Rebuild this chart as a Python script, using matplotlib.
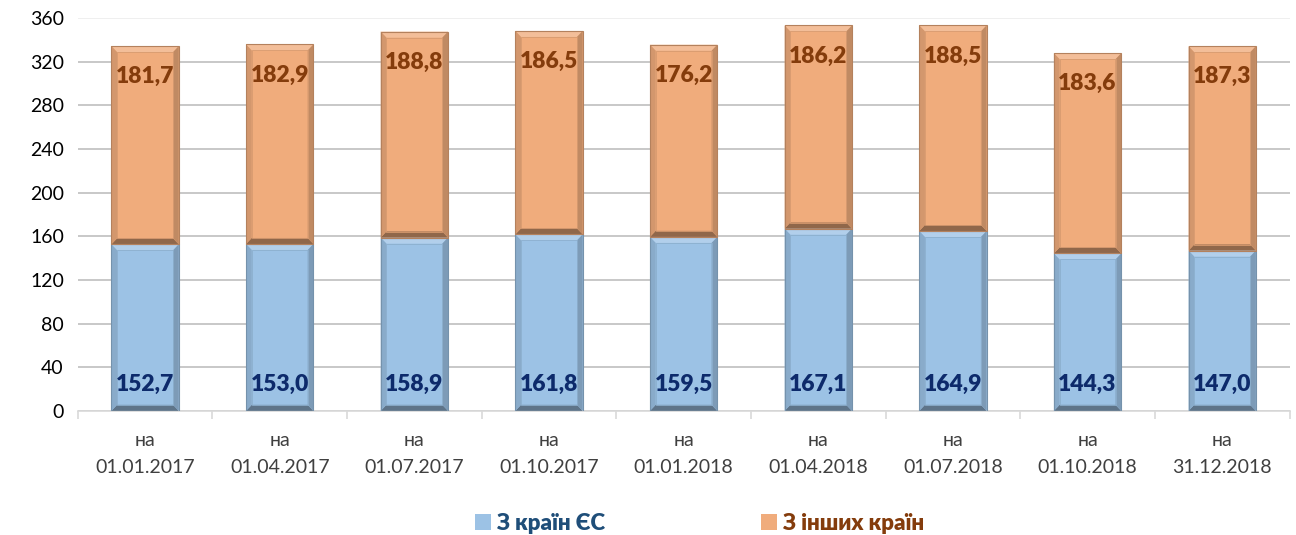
import numpy as np
import matplotlib
matplotlib.use('Agg')
import matplotlib.pyplot as plt
from matplotlib.patches import Polygon, Rectangle
from matplotlib.colors import to_rgb

plt.rcParams['font.family'] = ['Lato', 'DejaVu Sans']

# ── data ────────────────────────────────────────────────────────────────
dates = ['01.01.2017', '01.04.2017', '01.07.2017', '01.10.2017', '01.01.2018',
         '01.04.2018', '01.07.2018', '01.10.2018', '31.12.2018']
eu_vals = [152.7, 153.0, 158.9, 161.8, 159.5, 167.1, 164.9, 144.3, 147.0]
other_vals = [181.7, 182.9, 188.8, 186.5, 176.2, 186.2, 188.5, 183.6, 187.3]
series_names = ['З країн ЄС', 'З інших країн']

BLUE = '#9cc2e5'
ORANGE = '#f0ac7c'
BLUE_TXT = '#0d2a6b'
ORANGE_TXT = '#843c0c'
LEG_BLUE = '#1f4e79'
AXIS_TXT = '#404040'


def shade(c, f):
    r, g, b = to_rgb(c)
    if f >= 1:
        return tuple(v + (1 - v) * (f - 1) for v in (r, g, b))
    return tuple(v * f for v in (r, g, b))


def bevel(ax, rect, base, bx, by):
    """Add the raised-edge look on top of a bar rectangle."""
    x0, y0 = rect.get_x(), rect.get_y()
    x1, y1 = x0 + rect.get_width(), y0 + rect.get_height()
    ix0, ix1, iy0, iy1 = x0 + bx, x1 - bx, y0 + by, y1 - by
    faces = [
        ([(x0, y1), (x1, y1), (ix1, iy1), (ix0, iy1)], shade(base, 1.22)),
        ([(x0, y0), (x1, y0), (ix1, iy0), (ix0, iy0)], shade(base, 0.6)),
        ([(x0, y0), (ix0, iy0), (ix0, iy1), (x0, y1)], shade(base, 0.88)),
        ([(x1, y0), (ix1, iy0), (ix1, iy1), (x1, y1)], shade(base, 0.8)),
    ]
    for pts, col in faces:
        ax.add_patch(Polygon(pts, closed=True, facecolor=col, edgecolor='none', zorder=3))
    ax.add_patch(Rectangle((ix0, iy0), ix1 - ix0, iy1 - iy0, facecolor='none',
                           edgecolor=shade(base, 0.9), linewidth=0.6, zorder=3))
    ax.add_patch(Rectangle((x0, y0), x1 - x0, y1 - y0, facecolor='none',
                           edgecolor=shade(base, 0.75), linewidth=0.8, zorder=4))


fig = plt.figure(figsize=(12.96, 5.35), dpi=100)
ax = fig.add_axes([0.060, 0.232, 0.935, 0.734])

x = np.arange(len(dates))
w = 0.5
b1 = ax.bar(x, eu_vals, w, color=BLUE, zorder=2, label=series_names[0])
b2 = ax.bar(x, other_vals, w, bottom=eu_vals, color=ORANGE, zorder=2, label=series_names[1])

for r in b1:
    bevel(ax, r, BLUE, 0.042, 5.5)
for r in b2:
    bevel(ax, r, ORANGE, 0.042, 5.5)

# value labels
for xi, e, o in zip(x, eu_vals, other_vals):
    ax.annotate(f'{e:.1f}'.replace('.', ','), (xi, 0), xytext=(0, 19), textcoords='offset points',
                ha='center', va='center', fontsize=16.5, fontweight='heavy', color=BLUE_TXT, zorder=5)
    ax.annotate(f'{o:.1f}'.replace('.', ','), (xi, e + o), xytext=(0, -22), textcoords='offset points',
                ha='center', va='center', fontsize=16.5, fontweight='heavy', color=ORANGE_TXT, zorder=5)

ax.set_ylim(0, 360)
ax.set_xlim(-0.5, len(dates) - 0.5)
ax.set_yticks(np.arange(0, 361, 40))
ax.grid(axis='y', color='#bfbfbf', linewidth=1.2, zorder=0)
ygl = ax.get_ygridlines()
ygl[-1].set_color('#ececec')

for s in ['top', 'right', 'left']:
    ax.spines[s].set_visible(False)
ax.spines['bottom'].set_color('#d9d9d9')
ax.spines['bottom'].set_linewidth(1.2)

ax.set_xticks(x)
ax.set_xticklabels([f'на\n{d}' for d in dates], fontsize=14, color=AXIS_TXT, linespacing=1.75)
ax.tick_params(axis='x', length=0, pad=15)
ax.set_xticks(np.arange(-0.5, len(dates), 1), minor=True)
ax.tick_params(axis='x', which='minor', length=6, color='#d9d9d9', width=1.2)
ax.tick_params(axis='y', length=0, labelsize=14, labelcolor='black', pad=10)

leg = fig.legend(handles=[b1, b2], loc='lower center', bbox_to_anchor=(0.54, -0.035), ncol=2,
                 frameon=False, handlelength=0.7, handleheight=0.7, columnspacing=7.0,
                 handletextpad=0.3, prop={'size': 16, 'weight': 'heavy'})
for t, c in zip(leg.get_texts(), [LEG_BLUE, ORANGE_TXT]):
    t.set_color(c)

fig.savefig('out.png', dpi=100, facecolor='white')
